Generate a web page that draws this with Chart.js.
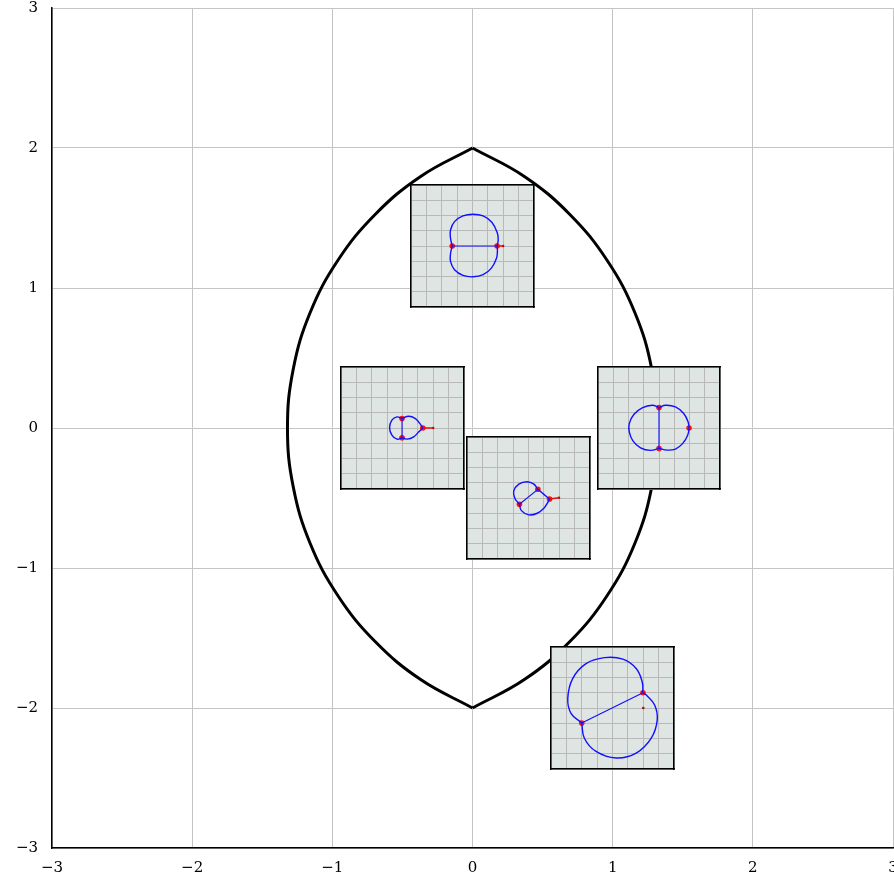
<!DOCTYPE html>
<html>
<head>
<meta charset="utf-8">
<script src="https://cdn.jsdelivr.net/npm/chart.js@4.4.1/dist/chart.umd.min.js"></script>
<style>
  body { margin: 0; overflow: hidden; background: #fff; }
  #wrap { position: relative; width: 897px; height: 880px; }
  .inset { position: absolute; }
</style>
</head>
<body>
<div id="wrap"><canvas id="main" width="897" height="880"></canvas></div>
<script>
// main axes
const tickValues = [-3, -2, -1, 0, 1, 2, 3];

// lens outline (right arc and left arc, top to bottom)
const lensY      = [2, 1.797, 1.527, 1.198, 0.825, 0.42, 0, -0.42, -0.825, -1.198, -1.527, -1.797, -2];
const lensRightX = [0, 0.37, 0.693, 0.96, 1.158, 1.279, 1.32, 1.279, 1.158, 0.96, 0.693, 0.37, 0];
const lensLeftX  = [0, -0.37, -0.693, -0.96, -1.158, -1.279, -1.32, -1.279, -1.158, -0.96, -0.693, -0.37, 0];

// inset centres (main units) and inset half size
const insetCenters = [[0, 1.3], [-0.5, 0], [1.33, 0], [0.4, -0.5], [1.0, -2.0]];
const insetHalf = 0.437;

// inset 1
const ins1Upper = [[-1.32,0],[-1.43,0.51],[-1.43,1.05],[-1.17,1.6],[-0.62,1.97],[0.03,2.08],[0.69,1.97],[1.27,1.54],[1.62,0.84],[1.67,0.4],[1.6,0]];
const ins1Lower = [[-1.32,0],[-1.43,-0.51],[-1.43,-1.01],[-1.17,-1.56],[-0.62,-1.93],[0.03,-2.02],[0.69,-1.88],[1.23,-1.45],[1.56,-0.8],[1.62,-0.36],[1.6,0]];
const ins1Chord = [[-1.32,0],[1.6,0]];
const ins1Tail  = [[1.6,0],[1.99,0]];
const ins1Dots  = [[-1.32,0],[1.6,0]];
const ins1End   = [[1.99,0]];

// inset 2
const ins2Left   = [[-0.03,0.62],[-0.36,0.73],[-0.69,0.51],[-0.84,0],[-0.69,-0.47],[-0.36,-0.73],[-0.03,-0.64]];
const ins2RightA = [[-0.03,0.62],[0.4,0.77],[0.84,0.62],[1.12,0.3],[1.32,0]];
const ins2RightB = [[1.32,0],[1.06,-0.25],[0.73,-0.58],[0.29,-0.73],[-0.03,-0.64]];
const ins2Chord  = [[-0.03,0.62],[-0.03,-0.64]];
const ins2Tail   = [[1.32,0],[1.99,0]];
const ins2Dots   = [[-0.03,0.62],[-0.03,-0.64],[1.32,0]];
const ins2End    = [[1.99,0]];

// inset 3
const ins3Left  = [[0,1.34],[-0.45,1.49],[-1.1,1.32],[-1.64,0.9],[-1.95,0.29],[-1.95,-0.25],[-1.71,-0.84],[-1.21,-1.3],[-0.56,-1.47],[0,-1.34]];
const ins3Right = [[0,1.34],[0.42,1.49],[1.08,1.38],[1.62,0.95],[1.91,0.4],[1.97,0],[1.88,-0.47],[1.56,-1.01],[1.08,-1.38],[0.53,-1.45],[0,-1.34]];
const ins3Chord = [[0,1.34],[0,-1.34]];
const ins3Dots  = [[0,1.34],[0,-1.34],[1.97,0]];

// inset 4
const ins4Upper = [[0.61,0.57],[0.35,0.91],[-0.09,1.07],[-0.63,0.91],[-0.96,0.46],[-0.89,-0.02],[-0.59,-0.41]];
const ins4Lower = [[-0.59,-0.41],[-0.46,-0.83],[0.02,-1.11],[0.57,-1.0],[1.0,-0.67],[1.26,-0.28],[1.37,-0.07]];
const ins4Back  = [[1.37,-0.07],[1.0,0.24],[0.61,0.57]];
const ins4Chord = [[-0.59,-0.41],[0.61,0.57]];
const ins4Tail  = [[1.37,-0.07],[1.98,0.02]];
const ins4Dots  = [[-0.59,-0.41],[0.61,0.57],[1.37,-0.07]];
const ins4End   = [[1.98,0.02]];

// inset 5
const ins5Upper = [[-2.0,-0.98],[-2.7,-0.35],[-2.91,0.63],[-2.59,1.93],[-1.72,2.91],[-0.52,3.3],[0.67,3.2],[1.54,2.59],[1.93,1.72],[1.98,1.0]];
const ins5Lower = [[-2.0,-0.98],[-1.83,-1.98],[-1.07,-2.85],[0.24,-3.28],[1.54,-2.96],[2.52,-1.98],[2.91,-0.78],[2.74,0.2],[2.2,0.85],[1.98,1.0]];
const ins5Chord = [[-2.0,-0.98],[1.98,1.0]];
const ins5Dots  = [[-2.0,-0.98],[1.98,1.0]];
const ins5End   = [[2.0,0]];

const insets = [
  { curves: [ins1Upper, ins1Lower], chords: [ins1Chord], tail: ins1Tail, dots: ins1Dots, end: ins1End },
  { curves: [ins2Left, ins2RightA, ins2RightB], chords: [ins2Chord], tail: ins2Tail, dots: ins2Dots, end: ins2End },
  { curves: [ins3Left, ins3Right], chords: [ins3Chord], tail: null, dots: ins3Dots, end: null },
  { curves: [ins4Upper, ins4Lower, ins4Back], chords: [ins4Chord], tail: ins4Tail, dots: ins4Dots, end: ins4End },
  { curves: [ins5Upper, ins5Lower], chords: [ins5Chord], tail: null, dots: ins5Dots, end: ins5End }
];

const pts = arr => arr.map(p => ({ x: p[0], y: p[1] }));
const fmt = v => v < 0 ? '\u2212' + Math.abs(v) : String(v);
const tickFont = { family: 'DejaVu Serif', size: 15 };

Chart.defaults.animation = false;

const main = new Chart(document.getElementById('main'), {
  type: 'scatter',
  data: {
    datasets: [
      { data: lensRightX.map((x, i) => ({ x: x, y: lensY[i] })), showLine: true, borderColor: '#000', borderWidth: 3, pointRadius: 0, tension: 0.4 },
      { data: lensLeftX.map((x, i) => ({ x: x, y: lensY[i] })), showLine: true, borderColor: '#000', borderWidth: 3, pointRadius: 0, tension: 0.4 }
    ]
  },
  options: {
    responsive: false,
    layout: { padding: { top: 8, right: 4, left: 0, bottom: 0 } },
    plugins: { legend: { display: false }, tooltip: { enabled: false } },
    scales: {
      x: {
        min: -3, max: 3,
        afterBuildTicks: s => { s.ticks = tickValues.map(v => ({ value: v })); },
        afterFit: s => { s.height = 32; s.paddingLeft = 0; s.paddingRight = 0; },
        grid: { color: '#c4c4c4', drawTicks: false },
        border: { color: '#000', width: 1.5 },
        ticks: { callback: fmt, padding: 11, color: '#000', font: tickFont, maxRotation: 0 }
      },
      y: {
        min: -3, max: 3,
        afterBuildTicks: s => { s.ticks = tickValues.map(v => ({ value: v })); },
        afterFit: s => { s.width = 52; s.paddingTop = 0; s.paddingBottom = 0; },
        grid: { color: '#c4c4c4', drawTicks: false },
        border: { color: '#000', width: 1.5 },
        ticks: { callback: fmt, padding: 14, color: '#000', font: tickFont }
      }
    }
  }
});

const wrap = document.getElementById('wrap');
const sx = main.scales.x, sy = main.scales.y;

const insetBg = {
  id: 'insetBg',
  beforeDraw(chart) {
    const a = chart.chartArea, ctx = chart.ctx;
    ctx.save();
    ctx.fillStyle = '#dfe5e3';
    ctx.fillRect(a.left, a.top, a.right - a.left, a.bottom - a.top);
    ctx.restore();
  }
};

const margin = 3;

insets.forEach((ins, k) => {
  const c = insetCenters[k];
  const left = Math.round(sx.getPixelForValue(c[0] - insetHalf));
  const right = Math.round(sx.getPixelForValue(c[0] + insetHalf));
  const top = Math.round(sy.getPixelForValue(c[1] + insetHalf));
  const bottom = Math.round(sy.getPixelForValue(c[1] - insetHalf));
  const cv = document.createElement('canvas');
  cv.className = 'inset';
  cv.width = right - left + 2 * margin;
  cv.height = bottom - top + 2 * margin;
  cv.style.left = (left - margin) + 'px';
  cv.style.top = (top - margin) + 'px';
  wrap.appendChild(cv);

  const ds = [];
  ins.curves.forEach(cu => ds.push({ data: pts(cu), showLine: true, borderColor: '#1010ff', borderWidth: 1.4, pointRadius: 0, tension: 0.4 }));
  ins.chords.forEach(ch => ds.push({ data: pts(ch), showLine: true, borderColor: '#1010ff', borderWidth: 1.1, pointRadius: 0 }));
  if (ins.tail) ds.push({ data: pts(ins.tail), showLine: true, borderColor: '#e01010', borderWidth: 1.5, pointRadius: 0 });
  if (ins.end) ds.push({ data: pts(ins.end), pointRadius: 1.3, backgroundColor: '#a01010' });
  ds.push({ data: pts(ins.dots), pointRadius: 2.8, backgroundColor: '#ff1010' });

  const zeroH = s => { s.height = 0; };
  const zeroW = s => { s.width = 0; };
  const edge = { color: '#000', width: 1.5 };
  new Chart(cv, {
    type: 'scatter',
    data: { datasets: ds },
    plugins: [insetBg],
    options: {
      responsive: false,
      layout: { padding: margin },
      elements: { point: { hoverRadius: 0, borderWidth: 0, hitRadius: 0 } },
      plugins: { legend: { display: false }, tooltip: { enabled: false } },
      scales: {
        x: { min: -4, max: 4, afterFit: zeroH, ticks: { display: false, stepSize: 1 }, grid: { color: '#b9b9b9', drawTicks: false }, border: edge },
        y: { min: -4, max: 4, afterFit: zeroW, ticks: { display: false, stepSize: 1 }, grid: { color: '#b9b9b9', drawTicks: false }, border: edge },
        x2: { position: 'top', min: -4, max: 4, afterFit: zeroH, ticks: { display: false }, grid: { display: false }, border: edge },
        y2: { position: 'right', min: -4, max: 4, afterFit: zeroW, ticks: { display: false }, grid: { display: false }, border: edge }
      }
    }
  });
});
</script>
</body>
</html>
